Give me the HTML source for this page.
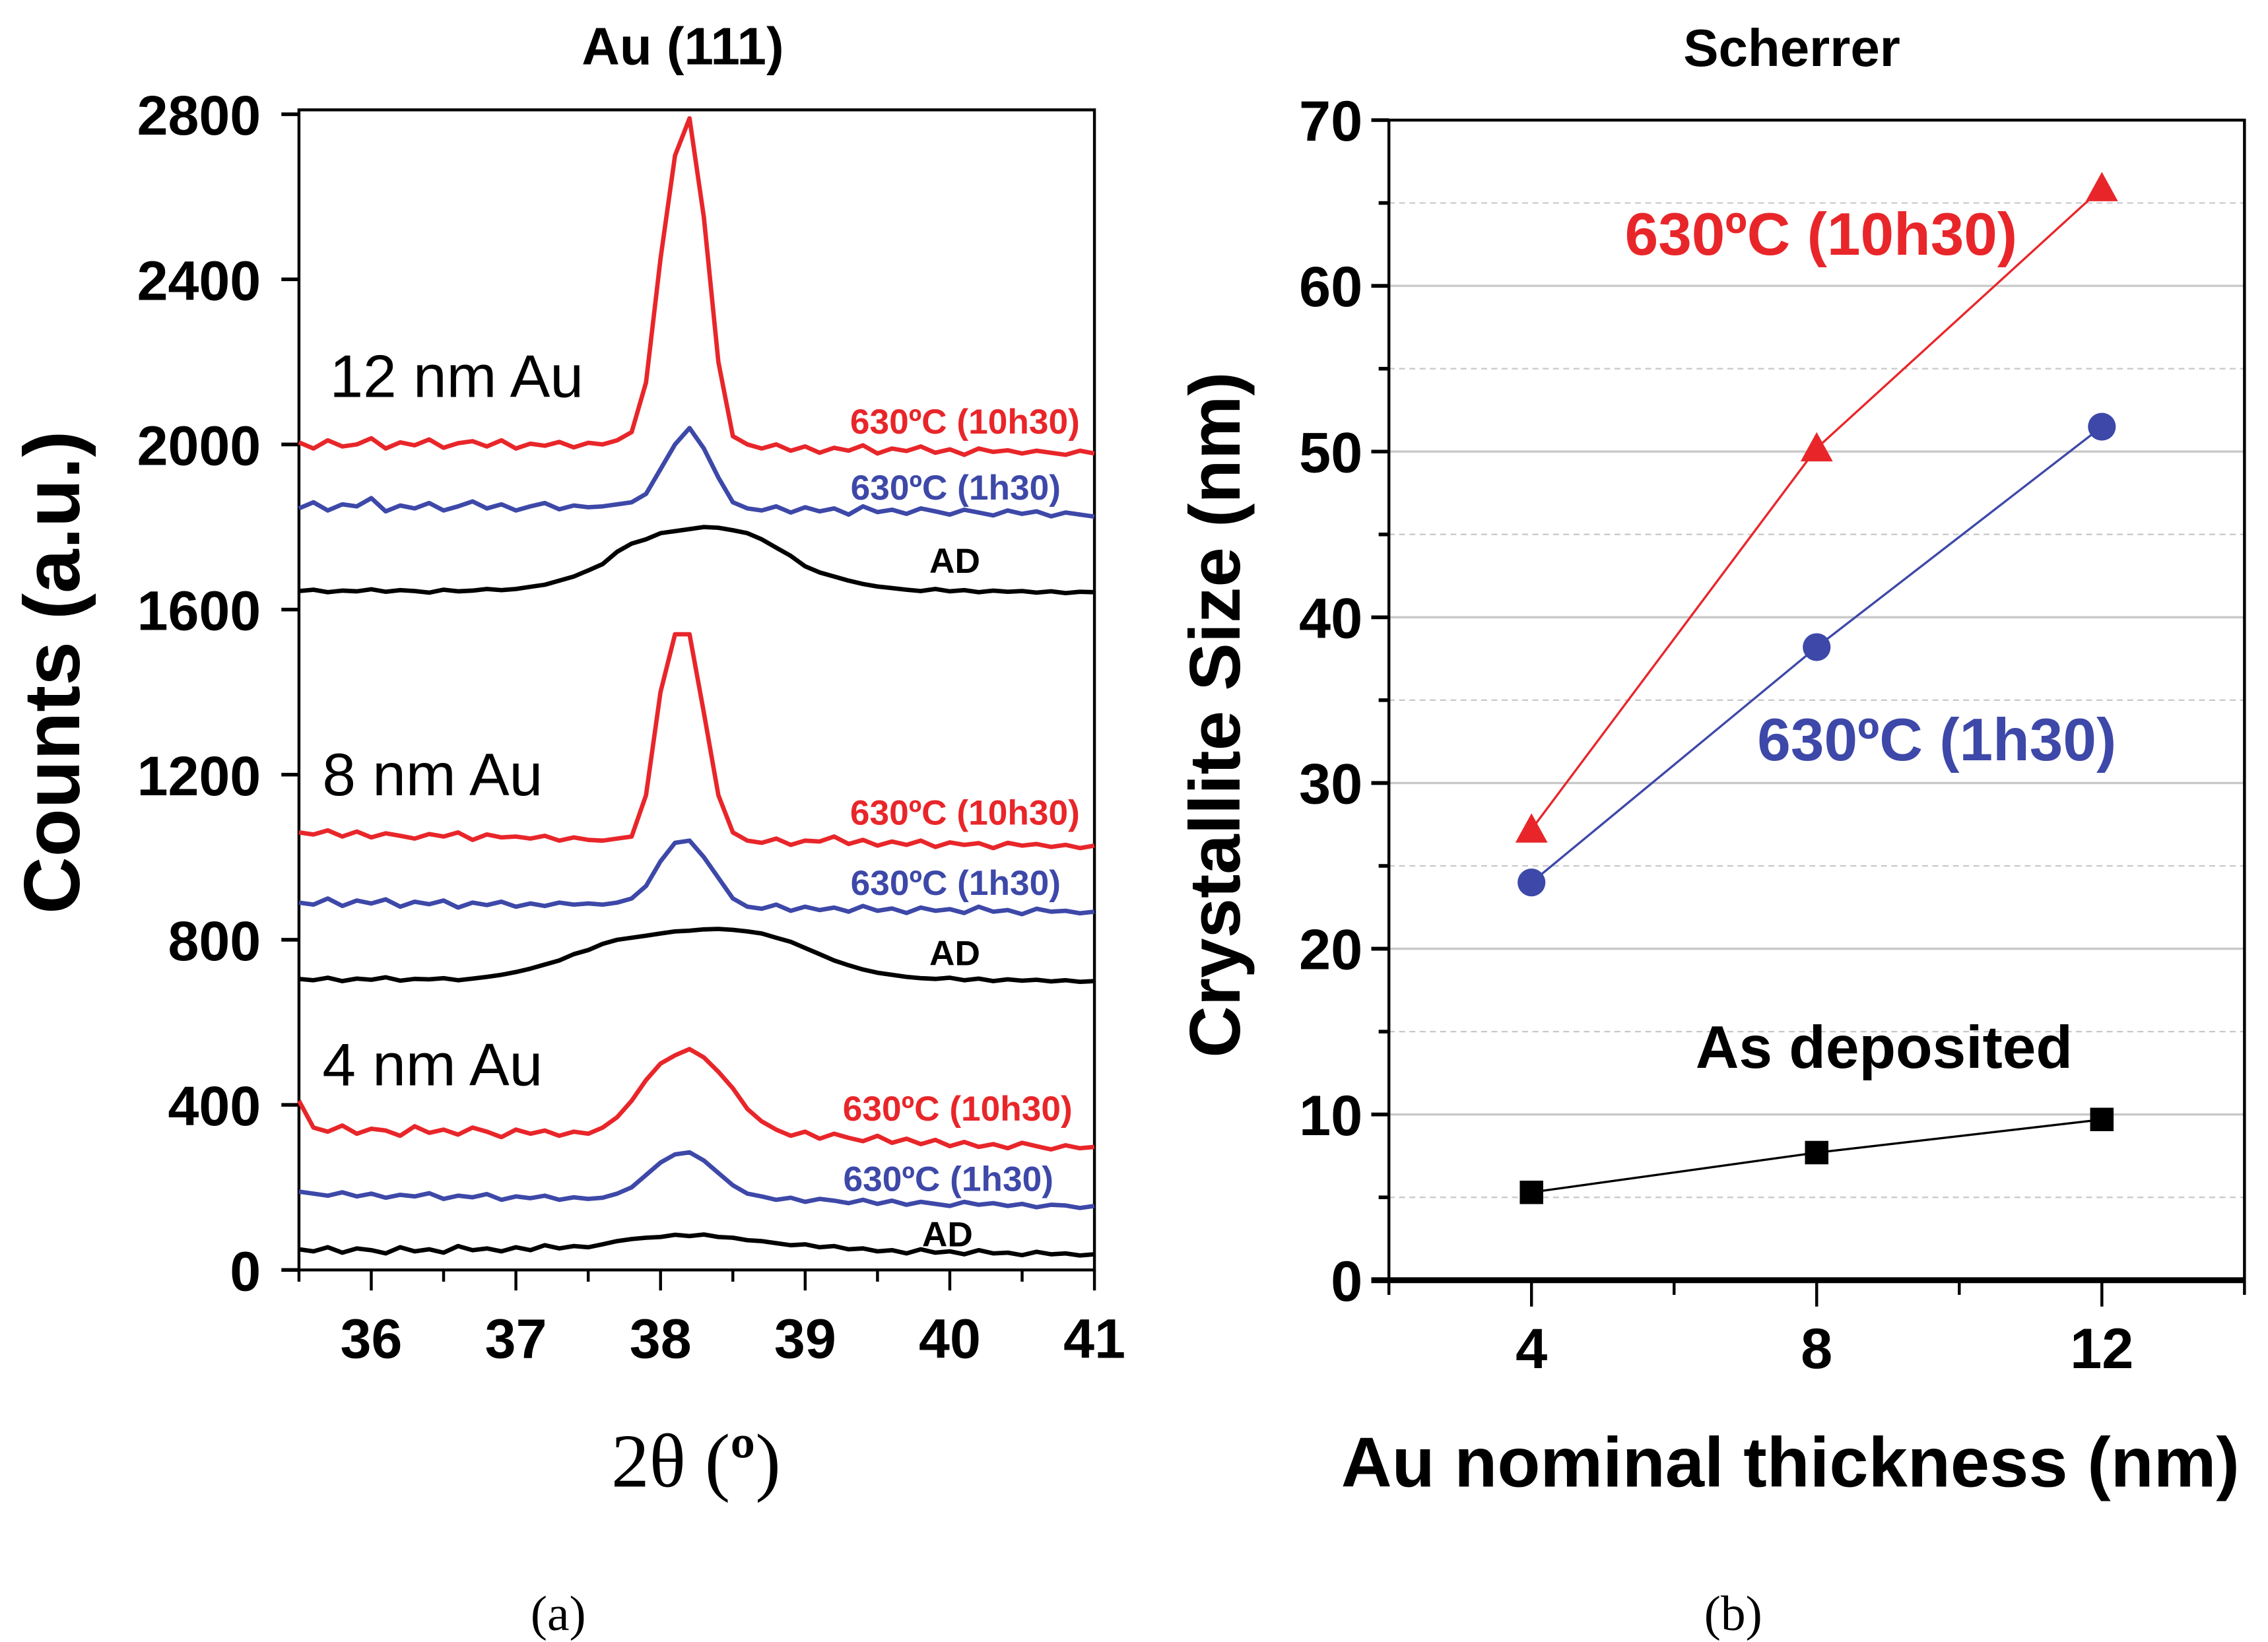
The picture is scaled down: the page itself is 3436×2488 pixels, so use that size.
<!DOCTYPE html>
<html><head><meta charset="utf-8"><style>
html,body{margin:0;padding:0;background:#fff;}
svg{display:block;}
text{font-family:"Liberation Sans",sans-serif;}
</style></head><body>
<svg id="fig" xmlns="http://www.w3.org/2000/svg" width="3436" height="2488" viewBox="0 0 1548 1121">
<rect width="1548" height="1121" fill="#fff"/>
<g id="left"></g>
<g id="right"></g>
<text x="466" y="44" text-anchor="middle" font-size="36" font-weight="bold">Au (111)</text>
<text x="1223" y="45" text-anchor="middle" font-size="36" font-weight="bold">Scherrer</text>
<text transform="translate(54,459) rotate(-90)" text-anchor="middle" font-size="54" font-weight="bold">Counts (a.u.)</text>
<text x="475" y="1015" text-anchor="middle" font-size="52" style="font-family:'Liberation Serif',serif">2θ (<tspan font-weight="bold">º</tspan>)</text>
<text transform="translate(846,488) rotate(-90)" text-anchor="middle" font-size="49" font-weight="bold">Crystallite Size (nm)</text>
<text x="1222" y="1015" text-anchor="middle" font-size="48" font-weight="bold">Au nominal thickness (nm)</text>
<text x="381" y="1113" text-anchor="middle" font-size="34" style="font-family:'Liberation Serif',serif">(a)</text>
<text x="1183" y="1113" text-anchor="middle" font-size="34" style="font-family:'Liberation Serif',serif">(b)</text>
</svg>
<script>
// ---------- Left chart data ----------
const xrdStart = 35.5;
const xrdStep = 0.1;
const red12 = [2005,1990,2010,1995,2000,2015,1990,2005,1998,2012,1992,2003,2008,1995,2010,1990,2002,1997,2006,1993,2004,2000,2010,2030,2150,2450,2700,2790,2550,2200,2020,2000,1990,2000,1985,1995,1980,1992,1985,1998,1978,1990,1984,1995,1980,1988,1975,1990,1982,1986,1978,1985,1980,1975,1985,1978];
const blue12 = [1845,1860,1840,1855,1850,1870,1838,1852,1845,1858,1840,1850,1862,1845,1855,1840,1850,1858,1843,1852,1848,1850,1855,1860,1880,1940,2000,2040,1990,1920,1860,1845,1840,1850,1835,1848,1838,1845,1830,1850,1836,1842,1832,1845,1838,1830,1842,1835,1828,1840,1832,1838,1826,1835,1830,1825];
const black12 = [1645,1648,1642,1646,1644,1649,1643,1647,1645,1641,1648,1644,1646,1650,1647,1650,1655,1660,1670,1680,1695,1710,1740,1760,1770,1785,1790,1795,1800,1798,1792,1785,1770,1750,1730,1705,1690,1680,1670,1662,1656,1652,1648,1645,1650,1644,1647,1642,1646,1643,1645,1641,1644,1640,1643,1642];
const red8 = [1060,1055,1065,1050,1062,1048,1058,1052,1045,1056,1050,1060,1042,1055,1048,1050,1045,1052,1040,1048,1042,1040,1045,1050,1150,1400,1540,1540,1350,1150,1060,1040,1035,1045,1030,1040,1038,1050,1032,1042,1028,1038,1030,1040,1025,1036,1030,1034,1022,1035,1028,1032,1025,1030,1022,1028];
const blue8 = [890,885,900,882,895,888,898,880,892,886,895,878,890,884,892,880,888,882,890,885,888,885,890,900,930,990,1035,1040,1000,950,900,880,875,885,870,880,872,878,868,882,870,876,865,878,870,874,865,880,868,872,862,875,868,870,864,868];
const black8 = [705,702,708,700,706,703,709,701,705,704,707,702,706,710,715,722,730,740,750,765,775,790,800,805,810,815,820,822,825,826,824,820,815,805,795,780,765,750,738,728,720,715,710,707,705,708,702,706,700,704,701,703,699,702,698,700];
const red4 = [410,345,335,350,330,342,338,325,348,332,340,328,345,335,322,340,330,338,325,335,330,345,370,410,460,500,520,535,515,480,440,390,360,340,325,335,318,330,320,312,325,308,318,305,315,300,310,298,305,295,308,300,292,302,295,298];
const blue4 = [190,185,180,188,178,185,175,182,178,186,172,180,176,184,170,178,174,180,170,176,172,175,185,200,230,260,280,285,265,235,205,185,178,170,175,165,172,168,162,170,160,168,158,165,160,155,165,158,162,155,160,152,158,156,150,155];
const black4 = [50,45,55,42,52,48,40,55,45,50,42,58,48,52,45,55,48,60,52,58,55,62,70,75,78,80,85,82,86,80,78,72,70,65,60,62,55,58,50,52,45,48,40,50,42,45,38,48,40,42,36,44,38,40,35,38];
const xrdYTicks = [0,400,800,1200,1600,2000,2400,2800];
const xrdXTicks = [36,37,38,39,40,41];

// ---------- Right chart data ----------
const thickness = [4,8,12];
const size10h30 = [27.2,50.2,65.9];
const size1h30 = [24.0,38.2,51.5];
const sizeAD = [5.3,7.7,9.7];
const sizeYTicks = [0,10,20,30,40,50,60,70];
const thickXTicks = [4,8,12];

const NS = "http://www.w3.org/2000/svg";
const RED = "#e8262a", BLUE = "#3d48a8";
function mk(tag, attrs, parent) {
  const e = document.createElementNS(NS, tag);
  for (const k in attrs) e.setAttribute(k, attrs[k]);
  parent.appendChild(e);
  return e;
}

// ----- Left chart -----
const L = document.getElementById('left');
const lx0 = 204, lx1 = 747, ly0 = 867, ly1 = 78;
const lxMin = 35.5, lxMax = 41, lyMin = 0, lyMax = 2800;
const lX = v => lx0 + (v - lxMin) / (lxMax - lxMin) * (lx1 - lx0);
const lY = v => ly0 - (v - lyMin) / (lyMax - lyMin) * (ly0 - ly1);
const lFrame = mk('rect', {x: lx0, y: ly1 - 3, width: lx1 - lx0, height: ly0 - ly1 + 3, fill: 'none', stroke: '#000', 'stroke-width': 2}, L);


xrdYTicks.forEach(t => {
  const tk = mk('line', {x1: lx0 - 12, x2: lx0, y1: lY(t), y2: lY(t), stroke: '#000', 'stroke-width': 2.5}, L);
  
  
  const lb = mk('text', {x: lx0 - 26, y: lY(t) + 14, 'text-anchor': 'end', 'font-size': 38, 'font-weight': 'bold'}, L);
  lb.textContent = t;
  
  
});
for (let v = 35.5; v <= 41.001; v += 0.5) {
  const major = Math.abs(v - Math.round(v)) < 0.01;
  const tk = mk('line', {x1: lX(v), x2: lX(v), y1: ly0, y2: ly0 + (major ? 14 : 8), stroke: '#000', 'stroke-width': 2}, L);
  
  
}
xrdXTicks.forEach(t => {
  const lb = mk('text', {x: lX(t), y: ly0 + 60, 'text-anchor': 'middle', 'font-size': 38, 'font-weight': 'bold'}, L);
  lb.textContent = t;
  
  
});
const series = [
  [red12, RED, 'red-12nm-10h30'], [blue12, BLUE, 'blue-12nm-1h30'], [black12, '#000', 'black-12nm-ad'],
  [red8, RED, 'red-8nm-10h30'], [blue8, BLUE, 'blue-8nm-1h30'], [black8, '#000', 'black-8nm-ad'],
  [red4, RED, 'red-4nm-10h30'], [blue4, BLUE, 'blue-4nm-1h30'], [black4, '#000', 'black-4nm-ad']
];
series.forEach(([arr, col, name]) => {
  const pts = arr.map((v, i) => lX(xrdStart + i * xrdStep).toFixed(1) + ',' + lY(v).toFixed(1)).join(' ');
  const pl = mk('polyline', {points: pts, fill: 'none', stroke: col, 'stroke-width': 3, 'stroke-linejoin': 'round'}, L);
  
  
});
const lLabels = [
  ['630ºC (10h30)', 737, 296, RED], ['630ºC (1h30)', 724, 341, BLUE], ['AD', 669, 391, '#000'],
  ['630ºC (10h30)', 737, 563, RED], ['630ºC (1h30)', 724, 611, BLUE], ['AD', 669, 659, '#000'],
  ['630ºC (10h30)', 732, 765, RED], ['630ºC (1h30)', 719, 813, BLUE], ['AD', 664, 851, '#000']
];
lLabels.forEach(([t, x, y, c]) => {
  const lb = mk('text', {x: x, y: y, 'text-anchor': 'end', 'font-size': 24, 'font-weight': 'bold', fill: c}, L);
  lb.textContent = t;
  
  
});
[['12 nm Au', 225, 271], ['8 nm Au', 220, 543], ['4 nm Au', 220, 741]].forEach(([t, x, y]) => {
  const lb = mk('text', {x: x, y: y, 'font-size': 41}, L);
  lb.textContent = t;
  
  
});

// ----- Right chart -----
const R = document.getElementById('right');
const rx0 = 948, rx1 = 1532, ry0 = 874, ry1 = 82;
const rxMin = 2, rxMax = 14, ryMin = 0, ryMax = 70;
const rX = v => rx0 + (v - rxMin) / (rxMax - rxMin) * (rx1 - rx0);
const rY = v => ry0 - (v - ryMin) / (ryMax - ryMin) * (ry0 - ry1);
for (let v = 5; v < 70; v += 5) {
  const major = v % 10 === 0;
  const g = mk('line', {x1: rx0, x2: rx1, y1: rY(v), y2: rY(v), stroke: '#c8c8c8', 'stroke-width': major ? 1.5 : 1, 'stroke-dasharray': major ? '' : '4,3'}, R);
  
  
  const tk = mk('line', {x1: rx0 - (major ? 12 : 7), x2: rx0, y1: rY(v), y2: rY(v), stroke: '#000', 'stroke-width': 2.5}, R);
  
  
}
const rFrame = mk('rect', {x: rx0, y: ry1, width: rx1 - rx0, height: ry0 - ry1, fill: 'none', stroke: '#000', 'stroke-width': 2}, R);


const bax = mk('line', {x1: rx0 - 12, x2: rx1, y1: ry0, y2: ry0, stroke: '#000', 'stroke-width': 4}, R);


sizeYTicks.forEach(t => {
  const tk = mk('line', {x1: rx0 - 12, x2: rx0, y1: rY(t), y2: rY(t), stroke: '#000', 'stroke-width': 2.5}, R);
  
  
  const lb = mk('text', {x: rx0 - 18, y: rY(t) + 14, 'text-anchor': 'end', 'font-size': 39, 'font-weight': 'bold'}, R);
  lb.textContent = t;
  
  
});
for (let v = 2; v <= 14; v += 2) {
  const major = v % 4 === 0;
  const tk = mk('line', {x1: rX(v), x2: rX(v), y1: ry0, y2: ry0 + (major ? 18 : 10), stroke: '#000', 'stroke-width': 2}, R);
  
  
}
thickXTicks.forEach(t => {
  const lb = mk('text', {x: rX(t), y: ry0 + 60, 'text-anchor': 'middle', 'font-size': 39, 'font-weight': 'bold'}, R);
  lb.textContent = t;
  
  
});
function drawSeries(vals, col, shape, name) {
  const pts = thickness.map((x, i) => rX(x).toFixed(1) + ',' + rY(vals[i]).toFixed(1)).join(' ');
  const pl = mk('polyline', {points: pts, fill: 'none', stroke: col, 'stroke-width': 1.5}, R);
  
  
  thickness.forEach((x, i) => {
    const cx = rX(x), cy = rY(vals[i]);
    let m;
    if (shape === 'tri') m = mk('polygon', {points: `${cx},${cy - 11} ${cx - 11},${cy + 9} ${cx + 11},${cy + 9}`, fill: col}, R);
    else if (shape === 'circ') m = mk('circle', {cx: cx, cy: cy, r: 9.5, fill: col}, R);
    else m = mk('rect', {x: cx - 8, y: cy - 8, width: 16, height: 16, fill: col}, R);
    
    
  });
}
drawSeries(size10h30, RED, 'tri', 'series-10h30');
drawSeries(size1h30, BLUE, 'circ', 'series-1h30');
drawSeries(sizeAD, '#000', 'sq', 'series-as-deposited');
[['630ºC (10h30)', 1243, 174, RED], ['630ºC (1h30)', 1322, 519, BLUE], ['As deposited', 1286, 729, '#000']].forEach(([t, x, y, c]) => {
  const lb = mk('text', {x: x, y: y, 'text-anchor': 'middle', 'font-size': 41, 'font-weight': 'bold', fill: c}, R);
  lb.textContent = t;
  
  
});
</script>
</body></html>
